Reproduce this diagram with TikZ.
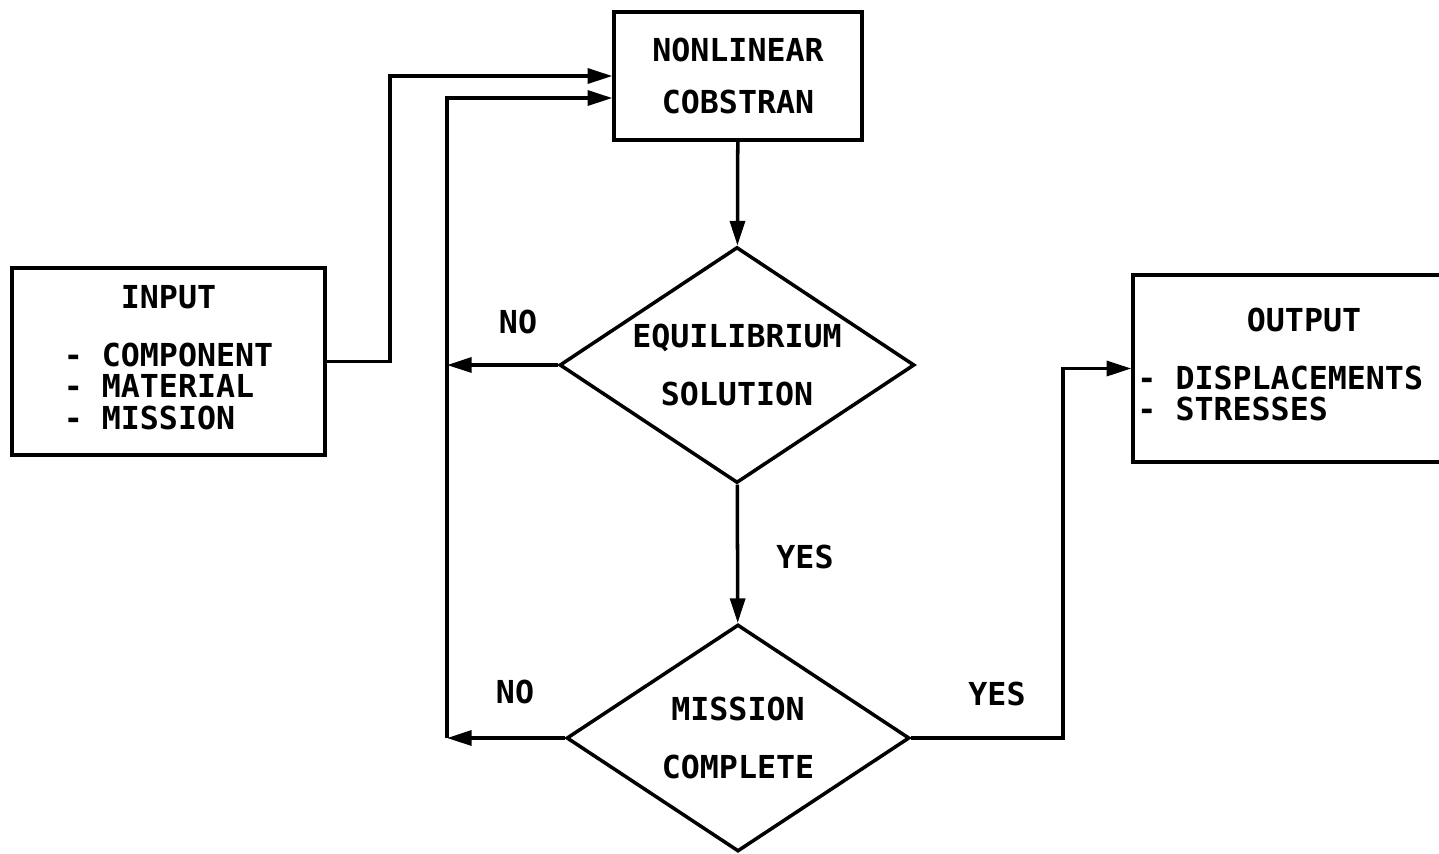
\documentclass[tikz,border=0pt]{standalone}
\usepackage{fontspec}
\setmonofont{DejaVu Sans Mono}
\usetikzlibrary{arrows.meta, positioning, shapes.geometric, calc}

\newcommand{\itemlist}[1]{\begin{tabular}[t]{@{}l@{}}#1\end{tabular}}

\begin{document}
\begin{tikzpicture}[
    x=0.02cm, y=-0.02cm,
    every node/.style={font=\fontsize{18}{16}\selectfont\ttfamily\bfseries},
    procBox/.style={rectangle, draw, line width=2pt, align=center, inner sep=0pt},
    decNode/.style={diamond, draw, line width=2pt, align=center, inner sep=0pt, shape aspect=1.5},
    flowArrow/.style={-{Triangle[length=14pt, width=8.5pt]}, line width=2pt},
    tagLabel/.style={inner sep=0pt}
]
    % Frame of the page
    \useasboundingbox (0,0) rectangle (1439,853);
    \clip (0,0) rectangle (1439,853);

    % Boxes
    \node[procBox, minimum width=4.96cm, minimum height=2.56cm] (nl) at (738,76)
        {NONLINEAR\\[14pt]COBSTRAN};
    \node[procBox, minimum width=6.26cm, minimum height=3.74cm] (in) at (168.5,361.5)
        {INPUT\\[17pt]\itemlist{- COMPONENT\\- MATERIAL\\- MISSION}};
    \node[procBox, minimum width=6.84cm, minimum height=3.74cm] (out) at (1304,368.5)
        {OUTPUT\\[17pt]\itemlist{- DISPLACEMENTS\\- STRESSES}\hspace*{0.95cm}};

    % Decisions
    \node[decNode, minimum width=7.1cm, minimum height=4.72cm] (eq) at (737,365)
        {EQUILIBRIUM\\[17pt]SOLUTION};
    \node[decNode, minimum width=6.86cm, minimum height=4.54cm] (mc) at (738,738)
        {MISSION\\[17pt]COMPLETE};

    % Branch labels
    \node[tagLabel] (no1)  at (518,322) {NO};
    \node[tagLabel] (no2)  at (515,692) {NO};
    \node[tagLabel] (yes1) at (805,557) {YES};
    \node[tagLabel] (yes2) at (997,694) {YES};

    % Routing columns
    \coordinate (inx)   at (390,0);
    \coordinate (loopx) at (447,0);
    \coordinate (yesx)  at (1063,0);

    % Main flow
    \draw[flowArrow] (nl) -- (eq);
    \draw[flowArrow] (eq) -- (mc);
    \draw[flowArrow] (in.east) -- (in.east -| inx) |- (nl.west);

    % Loop back when NO
    \draw[flowArrow] (eq.west) -- (eq.west -| loopx);
    \draw[flowArrow] (mc.west) -- (mc.west -| loopx);
    \draw[flowArrow] (mc.west -| loopx) |- ($(nl.west)+(0,22)$);

    % Done when YES
    \draw[flowArrow] (mc.east) -- (mc.east -| yesx) |- (out.west);
\end{tikzpicture}
\end{document}
